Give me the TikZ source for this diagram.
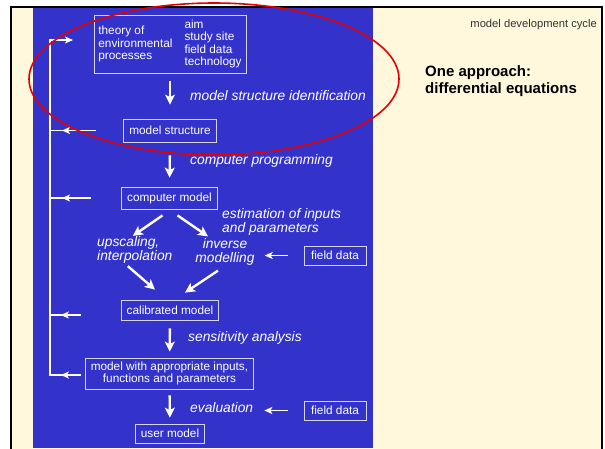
\documentclass[tikz,border=0pt]{standalone}
\usepackage{fontspec}
\setmainfont{Liberation Sans}
\usepackage{xcolor}
\usetikzlibrary{arrows.meta, decorations.markings}
\definecolor{panelblue}{HTML}{3333CC}
\definecolor{cream}{HTML}{FFF8DC}
\definecolor{boxline}{HTML}{D4D4F6}
\definecolor{ringred}{HTML}{E60000}

\begin{document}
\begin{tikzpicture}[x=1pt,y=-1pt,
    stage/.style={draw=boxline,line width=0.8pt,text=white,font=\fontsize{11.8}{12}\selectfont,align=center,inner xsep=5.5pt,inner ysep=4pt,minimum height=20pt},
    act/.style={text=white,font=\fontsize{13.8}{14}\selectfont\itshape,align=left,inner sep=0pt},
    bigarr/.style={draw=white,line width=2.4pt,-{Stealth[length=10pt,width=10pt,inset=2.5pt]}},
    fbarr/.style={draw=white,line width=1.8pt,-{Stealth[length=8pt,width=7pt,inset=2pt]}},
    fbline/.style={color=white,line width=1.8pt,postaction=decorate,decoration={markings,mark=at position -12pt with {\arrow{Stealth[length=8pt,width=7pt,inset=2pt]}}}}]
    \useasboundingbox (0,0) rectangle (605,448);
    \fill[white] (0,0) rectangle (605,448);
    \filldraw[fill=cream,draw=black,line width=1.5pt] (11,7) rectangle (602,460);
    \fill[panelblue] (33,8) rectangle (373,448);

    \node[stage,inner sep=4.5pt] (theory) at (170,44.5) {\begin{tabular}{@{}l@{\hspace{12pt}}l@{}}
        \begin{tabular}[c]{@{}l@{}}theory of\\environmental\\processes\end{tabular} &
        \begin{tabular}[c]{@{}l@{}}aim\\study site\\field data\\technology\end{tabular}
    \end{tabular}};
    \node[stage,minimum height=23pt] (mstruct) at (170,130.5) {model structure};
    \node[stage,minimum height=22pt] (cmodel) at (169.5,198) {computer model};
    \node[act,anchor=west] (upsc) at (97,249.5) {upscaling,\\interpolation};
    \node[act,align=center] (inv) at (225,252) {inverse\\modelling};
    \node[stage,minimum width=62pt,minimum height=19pt] (fd1) at (335,255.5) {field data};
    \node[stage] (calib) at (170,310) {calibrated model};
    \node[stage] (mwith) at (169.5,373.5) {model with appropriate inputs,\\functions and parameters};
    \node[stage,minimum height=19pt] (user) at (170,433.5) {user model};
    \node[stage,minimum width=62pt,minimum height=19pt] (fd2) at (335,410.5) {field data};

    \node[act,anchor=west] (msid) at (190,96) {model structure identification};
    \node[act,anchor=west] (prog) at (190,161) {computer programming};
    \node[act,anchor=west] (estim) at (222,222) {estimation of inputs\\and parameters};
    \node[act,anchor=west] (sens) at (188,338) {sensitivity analysis};
    \node[act,anchor=west] (eval) at (190,408) {evaluation};

    \node[anchor=base east,inner sep=0pt,text=black!80,font=\fontsize{11.2}{12}\selectfont] (cycle) at (597,27) {model development cycle};
    \node[anchor=north west,inner sep=0pt,align=left,font=\fontsize{15}{17}\selectfont\bfseries] (approach) at (425,65) {One approach:\\differential equations};

    \draw[bigarr,shorten <=7pt,shorten >=14pt] (theory) -- (mstruct);
    \draw[bigarr,shorten <=13pt,shorten >=9pt] (mstruct) -- (cmodel);
    \draw[bigarr] ([shift={(-7,6)}]cmodel.south) -- ([shift={(-2,0)}]upsc.north);
    \draw[bigarr] ([shift={(8,6)}]cmodel.south) -- ([shift={(-17,-2)}]inv.north);
    \draw[bigarr] ([shift={(-7,3)}]upsc.south) -- ([shift={(-15,-10)}]calib.north);
    \draw[bigarr] ([shift={(-7,5)}]inv.south) -- ([shift={(15,-7)}]calib.north);
    \draw[bigarr,shorten <=8pt,shorten >=6pt] (calib) -- (mwith);
    \draw[bigarr,shorten <=6pt,shorten >=6pt] (mwith) -- (user);
    \draw[fbarr,shorten <=16pt,shorten >=10pt] (fd1.west) -- (fd1.west -| inv.east);
    \draw[fbarr,shorten <=16pt,shorten >=11pt] (fd2.west) -- (fd2.west -| eval.east);

    \coordinate (railtop) at (50,40);
    \coordinate (railbot) at (50,375);
    \coordinate (railin) at (73,40);
    \draw[fbarr] (railbot) -- (railtop) -- (railin);
    \draw[fbline] ([shift={(-27,0)}]mstruct.west) -- (mstruct.west -| railtop);
    \draw[fbline] ([shift={(-30,0)}]cmodel.west) -- (cmodel.west -| railtop);
    \draw[fbline] ([shift={(-40,5)}]calib.west) -- ++(-32,0);
    \draw[fbline] ([shift={(-4,1.5)}]mwith.west) -- ++(-32,0);

    \draw[draw=ringred,line width=1.6pt] (214,79) ellipse [x radius=185pt,y radius=76pt];
\end{tikzpicture}
\end{document}
